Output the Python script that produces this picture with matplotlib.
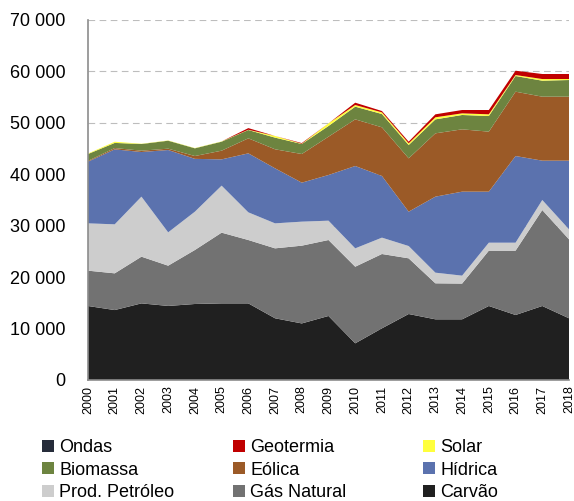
import matplotlib
matplotlib.use("Agg")
import matplotlib.pyplot as plt
from matplotlib.patches import Patch
from matplotlib.ticker import FuncFormatter, MultipleLocator

plt.rcParams['font.family'] = ['Liberation Sans', 'DejaVu Sans']

years = list(range(2000, 2019))
carvao = [14390, 13600, 14900, 14400, 14780, 14900, 14900, 12000, 11000, 12450,
          7130, 10050, 12830, 11800, 11800, 14390, 12640, 14390, 12000]
gas_natural = [6870, 7140, 9080, 7830, 10500, 13750, 12320, 13600, 15120, 14770,
               14900, 14450, 10830, 7000, 6950, 10760, 12510, 18660, 15350]
prod_petroleo = [9200, 9530, 11670, 6480, 7450, 9140, 5380, 4860, 4670, 3760,
                 3570, 3180, 2390, 2070, 1540, 1550, 1550, 1950, 1950]
hidrica = [11990, 14580, 8680, 16010, 10270, 5110, 11470, 10700, 7580, 8880,
           16010, 11990, 6680, 14780, 16330, 9920, 16850, 7650, 13350]
eolica = [150, 250, 260, 260, 550, 1690, 2920, 3700, 5570, 7450,
          9070, 9460, 10370, 12310, 12120, 11670, 12510, 12440, 12440]
biomassa = [1340, 1000, 1300, 1550, 1500, 1750, 1620, 2270, 1950, 2080,
            2470, 2590, 2590, 2720, 2790, 3040, 3050, 3110, 3240]
solar = [100, 230, 50, 50, 50, 50, 50, 320, 50, 510,
         320, 320, 330, 400, 320, 330, 190, 320, 190]
geotermia = [0, 0, 0, 0, 0, 0, 320, 0, 130, 0,
             450, 260, 320, 580, 650, 840, 840, 980, 980]
ondas = [0] * 19

series = [carvao, gas_natural, prod_petroleo, hidrica, eolica, biomassa, solar, geotermia, ondas]
names = ['Carvão', 'Gás Natural', 'Prod. Petróleo', 'Hídrica', 'Eólica', 'Biomassa',
         'Solar', 'Geotermia', 'Ondas']
colors = ['#202020', '#727272', '#cdcdcd', '#5b72ae', '#9b5a27', '#6d8440',
          '#ffff3c', '#c00000', '#262c3a']

fig = plt.figure(figsize=(5.74, 5.01), dpi=100)
ax = fig.add_axes([88/574, 1-380/501, (569-88)/574, (380-20)/501])

ax.stackplot(years, *series, colors=colors, linewidth=0, zorder=2)

ax.set_xlim(2000, 2018)
ax.set_ylim(0, 70000)
ax.yaxis.set_major_locator(MultipleLocator(10000))
ax.yaxis.set_major_formatter(FuncFormatter(lambda v, p: f"{int(v):,}".replace(",", " ")))
ax.set_xticks(years)
ax.set_xticklabels([str(y) for y in years], rotation=90, fontsize=9)
ax.tick_params(axis='y', labelsize=13, length=0, pad=16)
ax.tick_params(axis='x', length=0, pad=4)
ax.grid(axis='y', linestyle=(0, (6, 4)), color='#bdbdbd', linewidth=0.8, zorder=0)
ax.set_axisbelow(True)
for s in ['top', 'right']:
    ax.spines[s].set_visible(False)
ax.spines['left'].set_color('#8c8c8c')
ax.spines['bottom'].set_color('#8c8c8c')
ax.spines['left'].set_linewidth(1.2)
ax.spines['bottom'].set_linewidth(1.2)

idx = {n: i for i, n in enumerate(names)}
columns = [['Ondas', 'Biomassa', 'Prod. Petróleo'],
           ['Geotermia', 'Eólica', 'Gás Natural'],
           ['Solar', 'Hídrica', 'Carvão']]
col_x = [35, 226, 416]
for cx, col in zip(col_x, columns):
    handles = [Patch(facecolor=colors[idx[n]], edgecolor='none') for n in col]
    fig.legend(handles, col, ncol=1, loc='upper left', bbox_to_anchor=(cx/574, 1-432/501),
               frameon=False, fontsize=13, handlelength=0.65, handleheight=0.65,
               handletextpad=0.3, labelspacing=0.3, borderaxespad=0)

fig.savefig('out.png', dpi=100)
